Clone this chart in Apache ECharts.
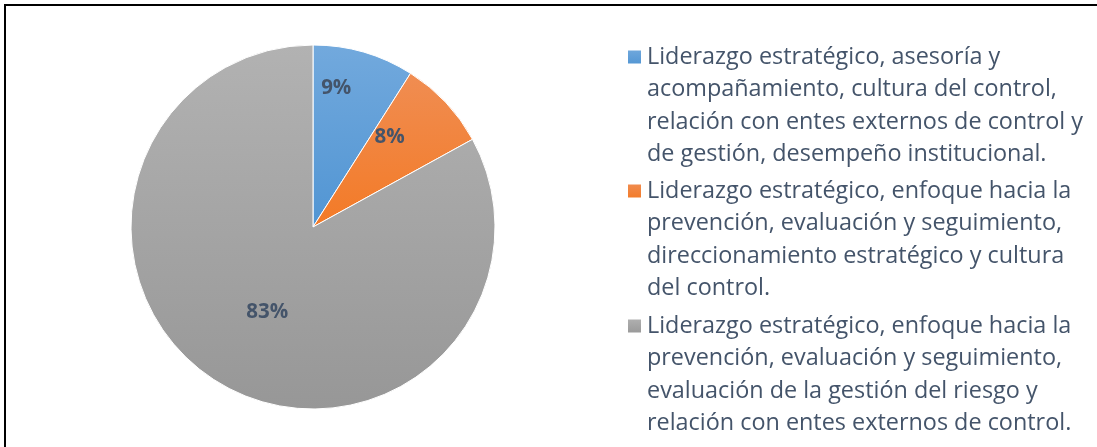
<!DOCTYPE html>
<html>
<head>
<meta charset="utf-8">
<script src="https://cdn.jsdelivr.net/npm/echarts@6/dist/echarts.min.js"></script>
<style>
    html, body { margin: 0; padding: 0; background: #fff; overflow: hidden; }
    #frame { position: absolute; left: 4px; top: 4px; width: 1110px; height: 460px; border: 2px solid #000; box-sizing: border-box; }
    #chart { position: absolute; left: 0; top: 0; width: 1097px; height: 447px; }
</style>
</head>
<body>
<div id="frame"></div>
<div id="chart"></div>
<script>
// datos del grafico
const categories = [
    "Liderazgo estratégico, asesoría y\nacompañamiento, cultura del control,\nrelación con entes externos de control y\nde gestión, desempeño institucional.",
    "Liderazgo estratégico, enfoque hacia la\nprevención, evaluación y seguimiento,\ndireccionamiento estratégico y cultura\ndel control.",
    "Liderazgo estratégico, enfoque hacia la\nprevención, evaluación y seguimiento,\nevaluación de la gestión del riesgo y\nrelación con entes externos de control."
];
const values = [9, 8, 83];
const labels = ["9%", "8%", "83%"];

const colorsTop = ['#72a9dd', '#f08d52', '#b2b2b2'];
const colorsBottom = ['#5195d3', '#f37a26', '#979797'];
const labelShift = [[-3, -49], [8, -25], [2, 4]]; // etiquetas tipo "best fit" de excel
const legendCenters = [57, 191, 326];

const textColor = '#44546a';
const lineH = 32.6;

function grad(i) {
    return new echarts.graphic.LinearGradient(0, 0, 0, 1, [
        { offset: 0, color: colorsTop[i] },
        { offset: 1, color: colorsBottom[i] }
    ]);
}

const chart = echarts.init(document.getElementById('chart'), null, { renderer: 'canvas' });

// tres lineas vacias arriba para que el icono quede en la primera linea
let legends = categories.map((name, i) => ({
    data: [name],
    orient: 'vertical',
    left: 626,
    top: legendCenters[i] - 3.5 * lineH,
    padding: 0,
    height: 1000,
    icon: 'rect',
    itemWidth: 15,
    itemHeight: 15,
    selectedMode: false,
    formatter: n => '\n\n\n' + n,
    textStyle: {
        fontFamily: 'Open Sans',
        fontSize: 23.4,
        lineHeight: lineH,
        color: textColor
    }
}));

chart.setOption({
    animation: false,
    legend: legends,
    series: [{
        type: 'pie',
        center: [313, 227],
        radius: 182,
        startAngle: 90,
        clockwise: true,
        itemStyle: { borderColor: '#ffffff', borderWidth: 1 },
        label: {
            show: true,
            position: 'inside',
            fontFamily: 'Open Sans',
            fontWeight: 'bold',
            fontSize: 20.5,
            color: textColor,
            formatter: p => labels[p.dataIndex]
        },
        labelLayout: p => ({ dx: labelShift[p.dataIndex][0], dy: labelShift[p.dataIndex][1] }),
        emphasis: { disabled: true },
        data: categories.map((name, i) => ({
            name: name,
            value: values[i],
            itemStyle: { color: grad(i) }
        }))
    }]
});
</script>
</body>
</html>
